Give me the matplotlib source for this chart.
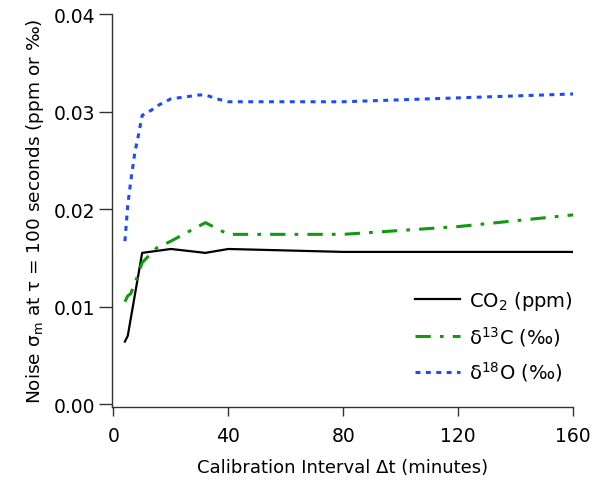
import matplotlib.pyplot as plt
import numpy as np

plt.rcParams['font.family'] = ['DejaVu Sans']
plt.rcParams['mathtext.fontset'] = 'dejavusans'

# calibration interval (minutes) and noise values
t_co2 = [4, 5, 10, 20, 32, 40, 80, 120, 160]
co2 = [0.0064, 0.0070, 0.0155, 0.0159, 0.0155, 0.0159, 0.0156, 0.0156, 0.0156]

t_d13c = [4, 5, 6, 8, 10, 15, 20, 25, 32, 40, 60, 80, 100, 120, 140, 160]
d13c = [0.0105, 0.0111, 0.0113, 0.0128, 0.0145, 0.0160, 0.0167, 0.0175, 0.0186,
        0.0174, 0.0174, 0.0174, 0.0178, 0.0182, 0.0188, 0.0194]

t_d18o = [4, 5, 6, 7.5, 8.6, 10, 13, 16, 20, 25, 30, 32, 36, 40, 60, 80, 100, 120, 140, 160]
d18o = [0.0167, 0.0204, 0.0228, 0.0259, 0.0274, 0.0296, 0.0301, 0.0307, 0.0313, 0.0315,
        0.0317, 0.0317, 0.0313, 0.0310, 0.0310, 0.0310, 0.0312, 0.0314, 0.0316, 0.0318]

fig = plt.figure(figsize=(6.06, 4.81), dpi=100)
ax = fig.add_axes([0.1843, 0.1511, 0.7617, 0.8177])

ax.plot(t_co2, co2, color='black', lw=1.6, label='CO$_2$ (ppm)')
ax.plot(t_d13c, d13c, color='#109a10', lw=2.2, dashes=(5, 3, 1.2, 3),
        label='δ$^{13}$C (‰)')
ax.plot(t_d18o, d18o, color='#1a4cff', lw=2.2, dashes=(1.6, 1.8),
        label='δ$^{18}$O (‰)')

ax.set_xlim(-0.6, 160)
ax.set_ylim(-0.00034, 0.04)
ax.set_xticks([0, 40, 80, 120, 160])
ax.set_yticks([0.00, 0.01, 0.02, 0.03, 0.04])
ax.yaxis.set_major_formatter(plt.FormatStrFormatter('%.2f'))

for s in ['top', 'right']:
    ax.spines[s].set_visible(False)
for s in ['left', 'bottom']:
    ax.spines[s].set_linewidth(1.0)
    ax.spines[s].set_color('#333333')
ax.tick_params(direction='out', width=1.0, labelsize=13.5, colors='#333333',
               labelcolor='black')
ax.tick_params(axis='x', length=6.5, pad=7)
ax.tick_params(axis='y', length=9.5, pad=2)

ax.set_xlabel('Calibration Interval Δt (minutes)', fontsize=13, labelpad=9)
ax.set_ylabel('Noise σ$_{\\rm m}$ at τ = 100 seconds (ppm or ‰)', fontsize=13.3,
              labelpad=6)

ax.legend(loc='upper left', bbox_to_anchor=(415 / 606, 1 - 290 / 481),
          bbox_transform=fig.transFigure, frameon=False, fontsize=14,
          borderpad=0, borderaxespad=0, handlelength=2.3, handletextpad=0.5,
          labelspacing=0.6)

fig.savefig('out.png', dpi=100)
